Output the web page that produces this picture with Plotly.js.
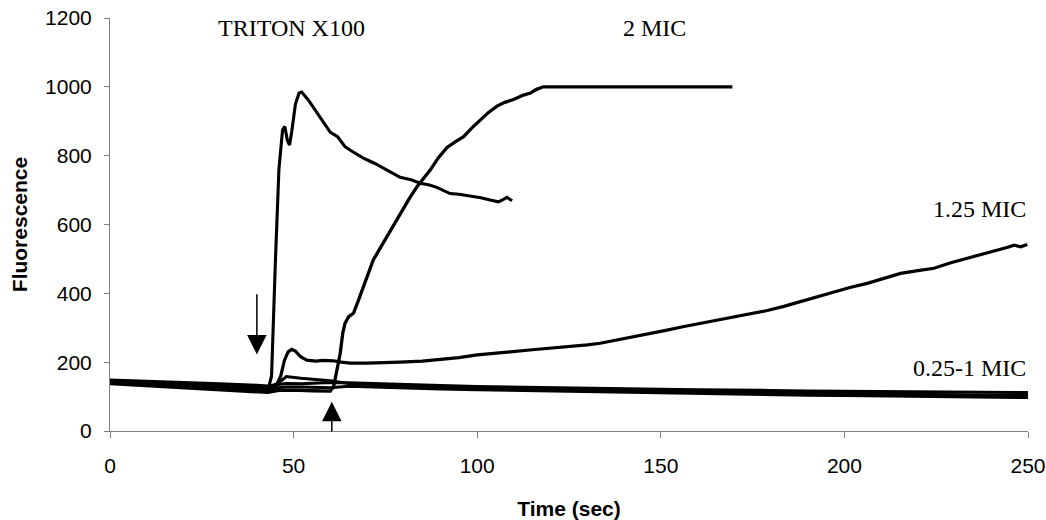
<!DOCTYPE html>
<html>
<head>
<meta charset="utf-8">
<script src="https://cdn.plot.ly/plotly-3.0.1.min.js"></script>
<style>html,body{margin:0;padding:0;background:#fff;}#chart{width:1046px;height:520px;}</style>
</head>
<body>
<div id="chart"></div>
<script>
// ---- data ----
const tritonX = [0,10,20,30,40,43,44,45,46,47,47.6,48.3,48.9,49.5,50.5,51.5,52.2,54,56,58,60,62,64,66,69,72,74.5,77,79,82,84.5,87,89,92.6,95,98,101,103.5,105.8,107,108.1,109.5];
const tritonY = [143,138,133,127,121,118,160,480,760,875,885,845,831,870,950,982,985,962,930,896,868,855,826,812,793,778,763,748,737,730,720,715,708,690,688,683,678,671,666,672,679,669];

const mic2X = [0,10,20,30,40,43,46,50,55,60,60.9,61.8,62.7,63.4,64,65,66.3,67.5,69,71.7,73.5,75.4,77,79,81.5,83.6,85.5,87.2,89.5,91.8,94,96.3,98.5,100.8,103,105.4,107.5,109.9,112.6,114.5,116,118,130,150,169.5];
const mic2Y = [138,132,127,121,115,112,118,119,117,116,129,180,226,285,313,332,342,375,419,497,530,564,597,632,675,710,735,758,795,824,840,855,880,904,925,944,955,963,976,982,992,1000,1000,1000,1000];

const mic125X = [0,10,20,30,40,43,45,46.5,47.5,48.5,49.5,50.5,52,53.6,56,58,60.8,63,65.4,70,75,79,85,90,95,100,105,109,115,120,125,130,133.5,138,142.6,147,151.7,156,160.8,165,169.9,174.5,179,183.5,188,192.5,197.1,201.5,206.2,210.5,215.3,220,224.4,229,233.5,238,242.5,244.5,246.2,248,249.8];
const mic125Y = [141,136,130,124,119,117,125,160,205,230,237,232,215,206,203,205,204,200,197,197,198,200,203,207,213,221,225,230,236,240,244,250,255,264,274,284,293,303,313,322,332,340,350,362,376,390,405,417,429,443,458,466,473,489,502,514,526,534,540,535,542];

const lowX = [0,10,20,30,40,43,46,48,52,56,60,65,70,80,90,100,110,120,130,140,150,160,170,180,190,200,210,220,230,240,250];
const mic025Y = [148,145,141,137,133,131,135,138,137,138,141,140,138,135,132,129,127,126,125,123,121,120,120,118,116,115,114,113,113,112,112];
const mic05Y  = [144,141,137,133,129,127,140,158,153,149,146,138,135,131,128,125,123,121,119,118,116,114,113,112,111,109,107,106,105,104,104];
const mic1Y   = [140,137,133,129,125,123,126,128,128,127,126,130,128,125,122,120,118,116,115,113,111,110,108,106,104,103,102,101,99,98,97];

const curveNames = ["TRITON X100","2 MIC","1.25 MIC","0.25 MIC","0.5 MIC","1 MIC"];
const labelTexts = ["TRITON X100","2 MIC","1.25 MIC","0.25-1 MIC"];
const xTicks = [0,50,100,150,200,250];
const yTicks = [0,200,400,600,800,1000,1200];

// ---- chart ----
const line = (w) => ({color:'#000', width:w, shape:'linear'});
const traces = [
  {x:lowX, y:mic025Y, name:curveNames[3], line:line(3)},
  {x:lowX, y:mic05Y,  name:curveNames[4], line:line(3)},
  {x:lowX, y:mic1Y,   name:curveNames[5], line:line(3)},
  {x:mic125X, y:mic125Y, name:curveNames[2], line:line(3.2)},
  {x:mic2X, y:mic2Y, name:curveNames[1], line:line(3.3)},
  {x:tritonX, y:tritonY, name:curveNames[0], line:line(3.1)}
].map(t => Object.assign({type:'scatter', mode:'lines', hoverinfo:'skip'}, t));

const serif = {family:'"Liberation Serif", "Times New Roman", serif', size:24, color:'#000'};
const annotations = [
  {x:49.5, y:1171, text:labelTexts[0], showarrow:false, font:serif, xanchor:'center', yanchor:'middle'},
  {x:148.4, y:1171, text:labelTexts[1], showarrow:false, font:serif, xanchor:'center', yanchor:'middle'},
  {x:250, y:645, text:labelTexts[2], showarrow:false, font:serif, xanchor:'right', yanchor:'middle'},
  {x:250, y:183, text:labelTexts[3], showarrow:false, font:serif, xanchor:'right', yanchor:'middle'},
  {x:40, y:222, ax:40, ay:402, axref:'x', ayref:'y', text:'', showarrow:true, arrowhead:2, arrowsize:2.6, arrowwidth:1.5, arrowcolor:'#000'},
  {x:60.4, y:85, ax:60.4, ay:-6, axref:'x', ayref:'y', text:'', showarrow:true, arrowhead:2, arrowsize:2.6, arrowwidth:1.5, arrowcolor:'#000'}
];

const tickFont = {family:'"Liberation Sans", Arial, sans-serif', size:21, color:'#000'};
const titleFont = {family:'"Liberation Sans", Arial, sans-serif', size:21, color:'#000', weight:'bold'};

const layout = {
  width:1046, height:520,
  margin:{l:110, r:18, t:18, b:89, pad:0},
  paper_bgcolor:'#fff', plot_bgcolor:'#fff',
  showlegend:false,
  font:{family:'"Liberation Sans", Arial, sans-serif', color:'#000'},
  xaxis:{
    range:[0,250], tickvals:xTicks, ticktext:xTicks.map(String),
    showgrid:false, zeroline:false, showline:true, linecolor:'#808080', linewidth:1,
    ticks:'outside', ticklen:6, tickcolor:'#808080', tickwidth:1,
    tickfont:tickFont, ticklabelstandoff:10,
    title:{text:'<b>Time (sec)</b>', font:titleFont, standoff:25}
  },
  yaxis:{
    range:[0,1200], tickvals:yTicks, ticktext:yTicks.map(String),
    showgrid:false, zeroline:false, showline:true, linecolor:'#808080', linewidth:1,
    ticks:'outside', ticklen:5, tickcolor:'#808080', tickwidth:1,
    tickfont:tickFont, ticklabelstandoff:8,
    title:{text:'<b>Fluorescence</b>', font:titleFont, standoff:11}
  },
  annotations:annotations
};

Plotly.newPlot('chart', traces, layout, {staticPlot:true, displayModeBar:false});
</script>
</body>
</html>
